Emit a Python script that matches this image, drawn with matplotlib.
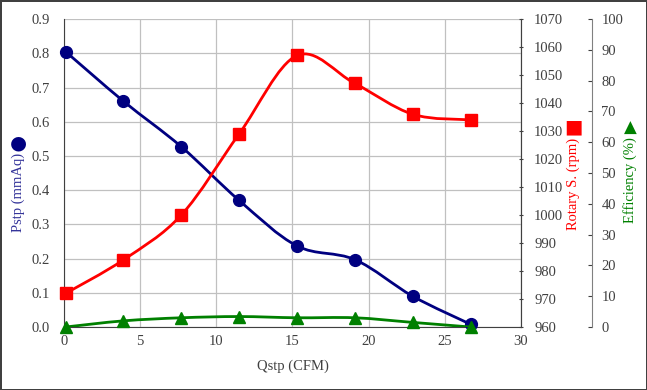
import numpy as np
import matplotlib
matplotlib.use('Agg')
import matplotlib.pyplot as plt
from matplotlib.path import Path
from matplotlib.patches import PathPatch

plt.rcParams['font.family'] = ['Liberation Serif', 'DejaVu Serif']
plt.rcParams['font.size'] = 10.5

# data
qstp = [0.1, 3.9, 7.7, 11.5, 15.3, 19.1, 22.9, 26.7]
pstp = [0.805, 0.660, 0.527, 0.370, 0.237, 0.197, 0.090, 0.008]
rpm = [972, 984, 1000, 1029, 1057, 1047, 1036, 1034]
eff = [0.0, 2.0, 3.0, 3.4, 3.0, 3.0, 1.5, 0.0]

x_ticks = [0, 5, 10, 15, 20, 25, 30]
p_ticks = [0.0, 0.1, 0.2, 0.3, 0.4, 0.5, 0.6, 0.7, 0.8, 0.9]
rpm_ticks = [960, 970, 980, 990, 1000, 1010, 1020, 1030, 1040, 1050, 1060, 1070]
eff_ticks = [0, 10, 20, 30, 40, 50, 60, 70, 80, 90, 100]

navy = '#000080'
red = '#ff0000'
green = '#008000'
tick_col = '#404040'


def smooth_path(xs, ys):
    # excel-like smoothed line: catmull-rom turned into cubic bezier pieces
    pts = np.column_stack([xs, ys]).astype(float)
    n = len(pts)
    verts = [pts[0]]
    codes = [Path.MOVETO]
    for i in range(n - 1):
        p0 = pts[i - 1] if i > 0 else pts[i]
        p1 = pts[i]
        p2 = pts[i + 1]
        p3 = pts[i + 2] if i + 2 < n else pts[i + 1]
        c1 = p1 + (p2 - p0) / 6.0
        c2 = p2 - (p3 - p1) / 6.0
        verts += [c1, c2, p2]
        codes += [Path.CURVE4] * 3
    return Path(verts, codes)


fig = plt.figure(figsize=(6.47, 3.9), dpi=100)
fig.patch.set_edgecolor('#404040')
fig.patch.set_linewidth(2)
ax = fig.add_axes([0.099, 0.1615, 0.706, 0.7895])

ax.set_xlim(0, 30)
ax.set_ylim(0, 0.9)
ax.set_xticks(x_ticks)
ax.set_yticks(p_ticks)
ax.set_yticklabels([f'{v:.1f}' for v in p_ticks])
ax.grid(True, color='#c0c0c0', lw=0.9)
ax.set_axisbelow(True)
ax.tick_params(length=0, colors=tick_col)
ax.tick_params(axis='y', pad=10)
ax.tick_params(axis='x', pad=6)
for s in ax.spines.values():
    s.set_color('#808080')
ax.spines['left'].set_color('#404040')
ax.spines['bottom'].set_color('#404040')
ax.spines['top'].set_visible(False)
ax.set_xlabel('Qstp (CFM)', color=tick_col, labelpad=8)

ax.add_patch(PathPatch(smooth_path(qstp, pstp), fc='none', ec=navy, lw=2, zorder=3))
ax.plot(qstp, pstp, ls='none', marker='o', ms=8.5, color=navy, zorder=4, clip_on=False)

ax2 = ax.twinx()
ax2.set_ylim(960, 1070)
ax2.set_yticks(rpm_ticks)
ax2.tick_params(length=3, direction='inout', colors=tick_col, pad=8)
ax2.spines['right'].set_color('#404040')
for k in ['left', 'top', 'bottom']:
    ax2.spines[k].set_visible(False)
ax2.add_patch(PathPatch(smooth_path(qstp, rpm), fc='none', ec=red, lw=2, zorder=3))
ax2.plot(qstp, rpm, ls='none', marker='s', ms=8.5, color=red, zorder=4, clip_on=False)

ax3 = ax.twinx()
ax3.set_ylim(0, 100)
ax3.set_yticks(eff_ticks)
ax3.spines['right'].set_position(('axes', 1.155))
ax3.spines['right'].set_color('#808080')
for k in ['left', 'top', 'bottom']:
    ax3.spines[k].set_visible(False)
ax3.tick_params(length=3, direction='in', colors=tick_col, pad=7)
ax3.add_patch(PathPatch(smooth_path(qstp, eff), fc='none', ec=green, lw=2, zorder=3))
ax3.plot(qstp, eff, ls='none', marker='^', ms=8, color=green, zorder=4, clip_on=False)

# axis titles with their marker symbols
fig.text(18 / 647, 1 - 192 / 390, 'Pstp (mmAq)', rotation=90, color='#333399',
         ha='center', va='center')
fig.text(18 / 647, 1 - 143 / 390, '\u25cf', color=navy, fontsize=14,
         family='DejaVu Sans', ha='center', va='center')
fig.text(573 / 647, 1 - 184 / 390, 'Rotary S. (rpm)', rotation=90, color=red,
         ha='center', va='center')
fig.text(573 / 647, 1 - 127 / 390, '\u25a0', color=red, fontsize=14,
         family='DejaVu Sans', ha='center', va='center')
fig.text(630 / 647, 1 - 180 / 390, 'Efficiency (%)', rotation=90, color=green,
         ha='center', va='center')
fig.text(630 / 647, 1 - 128 / 390, '\u25b2', color=green, fontsize=12,
         family='DejaVu Sans', ha='center', va='center')

plt.savefig('out.png', dpi=100)
